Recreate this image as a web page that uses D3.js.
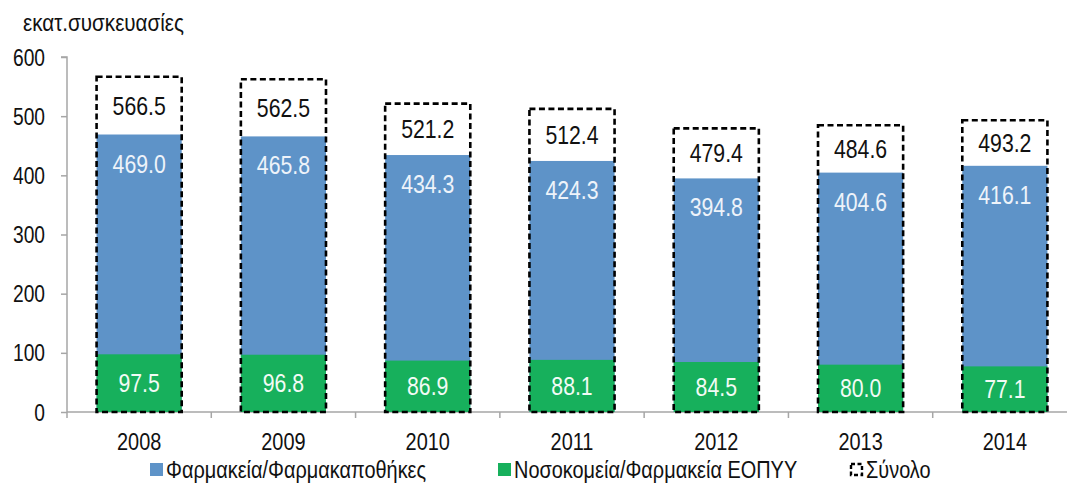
<!DOCTYPE html>
<html>
<head>
<meta charset="utf-8">
<script src="https://cdn.jsdelivr.net/npm/d3@7"></script>
<style>
  html, body { margin: 0; padding: 0; background: #fff; }
  svg { display: block; }
  text { font-family: 'Liberation Sans', Arial, sans-serif; }
</style>
</head>
<body>
<svg id="chart" width="1067" height="485"></svg>
<script>
// Annual volumes, million packages
const years = ["2008", "2009", "2010", "2011", "2012", "2013", "2014"];
const pharmacies = [469.0, 465.8, 434.3, 424.3, 394.8, 404.6, 416.1];
const hospitals = [97.5, 96.8, 86.9, 88.1, 84.5, 80.0, 77.1];
const totals = [566.5, 562.5, 521.2, 512.4, 479.4, 484.6, 493.2];
const yTicks = [0, 100, 200, 300, 400, 500, 600];

const unitLabel = "εκατ.συσκευασίες";
const seriesNames = ["Φαρμακεία/Φαρμακαποθήκες", "Νοσοκομεία/Φαρμακεία ΕΟΠΥΥ", "Σύνολο"];

const BLUE = "#5e93c8";
const GREEN = "#17b05c";
const AXIS = "#a6a6a6";

const svg = d3.select("#chart");

// Places a horizontally condensed text at (x, y)
function ctext(parent, x, y, str, opts) {
  const o = Object.assign({ size: 22, anchor: "start", fill: "#111", dy: null, sq: 0.85 }, opts || {});
  const t = parent.append("g").attr("transform", `translate(${x},${y})`)
    .append("text").attr("transform", `scale(${o.sq},1)`)
    .attr("font-size", o.size).attr("text-anchor", o.anchor).attr("fill", o.fill).text(str);
  if (o.dy) t.attr("dy", o.dy);
  return t;
}

const x = d3.scaleBand().domain(years).range([67, 1077]).paddingInner(0.41).paddingOuter(0.205);
const y = d3.scaleLinear().domain([0, 600]).range([412, 57]);

const rows = years.map((yr, i) => ({ yr, ph: pharmacies[i], ho: hospitals[i], tot: totals[i] }));

// Y axis
const yAxis = svg.append("g").attr("transform", "translate(67,0)")
  .call(d3.axisLeft(y).tickValues(yTicks).tickSize(6).tickFormat(""));
yAxis.select(".domain").attr("stroke", AXIS).attr("stroke-width", 1.5).attr("d", `M-6,${y(600)}H0V${y(0)}`);
yAxis.selectAll(".tick line").attr("stroke", AXIS).attr("stroke-width", 1.5);
const yLab = svg.append("g");
yTicks.forEach(v => ctext(yLab, 45, y(v), d3.format("d")(v), { size: 24, anchor: "end", dy: "0.36em", sq: 0.8 }));

// X axis baseline with separators between categories
const xg = svg.append("g");
xg.append("line").attr("x1", 67).attr("x2", 1067).attr("y1", y(0)).attr("y2", y(0))
  .attr("stroke", AXIS).attr("stroke-width", 1.5);
const step = x.step();
const bounds = d3.range(years.length + 1).map(i => x.range()[0] + i * step).filter(b => b < 1067);
xg.selectAll("line.sep").data(bounds).join("line").attr("class", "sep")
  .attr("x1", d => d).attr("x2", d => d).attr("y1", y(0)).attr("y2", y(0) + 6)
  .attr("stroke", AXIS).attr("stroke-width", 1.5);
years.forEach(yr => ctext(xg, x(yr) + x.bandwidth() / 2, 450, yr, { size: 24, anchor: "middle", sq: 0.83 }));

// Bars: pharmacies and hospitals from zero, total as a dashed outline
const g = svg.append("g");
g.selectAll("rect.ph").data(rows).join("rect").attr("class", "ph")
  .attr("x", d => x(d.yr)).attr("width", x.bandwidth())
  .attr("y", d => y(d.ph)).attr("height", d => y(0) - y(d.ph)).attr("fill", BLUE);
g.selectAll("rect.ho").data(rows).join("rect").attr("class", "ho")
  .attr("x", d => x(d.yr)).attr("width", x.bandwidth())
  .attr("y", d => y(d.ho)).attr("height", d => y(0) - y(d.ho)).attr("fill", GREEN);
g.selectAll("rect.tot").data(rows).join("rect").attr("class", "tot")
  .attr("x", d => x(d.yr)).attr("width", x.bandwidth())
  .attr("y", d => y(d.tot)).attr("height", d => y(0) - y(d.tot))
  .attr("fill", "none").attr("stroke", "#000").attr("stroke-width", 2.6)
  .attr("stroke-dasharray", "6,3.5");

// Value labels
const fmt = d3.format(".1f");
const lab = svg.append("g");
rows.forEach(d => {
  const cx = x(d.yr) + x.bandwidth() / 2;
  ctext(lab, cx, (y(d.tot) + y(d.ph)) / 2, fmt(d.tot), { size: 25, anchor: "middle", dy: "0.36em" });
  ctext(lab, cx, y(d.ph) + 29, fmt(d.ph), { size: 25, anchor: "middle", dy: "0.36em", fill: "#eef3fa" });
  ctext(lab, cx, (y(d.ho) + y(0)) / 2, fmt(d.ho), { size: 25, anchor: "middle", dy: "0.36em", fill: "#f2fbf5" });
});

// Unit label
ctext(svg, 23, 31, unitLabel, { size: 24, sq: 0.86 });

// Legend
const leg = svg.append("g");
const legItems = [
  { x: 150, name: seriesNames[0], kind: "fill", color: BLUE },
  { x: 498, name: seriesNames[1], kind: "fill", color: GREEN },
  { x: 850, name: seriesNames[2], kind: "box" }
];
legItems.forEach(it => {
  if (it.kind === "fill") {
    leg.append("rect").attr("x", it.x).attr("y", 463).attr("width", 13).attr("height", 13).attr("fill", it.color);
  } else {
    leg.append("rect").attr("x", it.x + 1).attr("y", 464).attr("width", 11).attr("height", 11)
      .attr("fill", "none").attr("stroke", "#000").attr("stroke-width", 2.4).attr("stroke-dasharray", "4,2.5");
  }
  ctext(leg, it.x + 16, 478, it.name, { size: 24, sq: 0.83 });
});
</script>
</body>
</html>
